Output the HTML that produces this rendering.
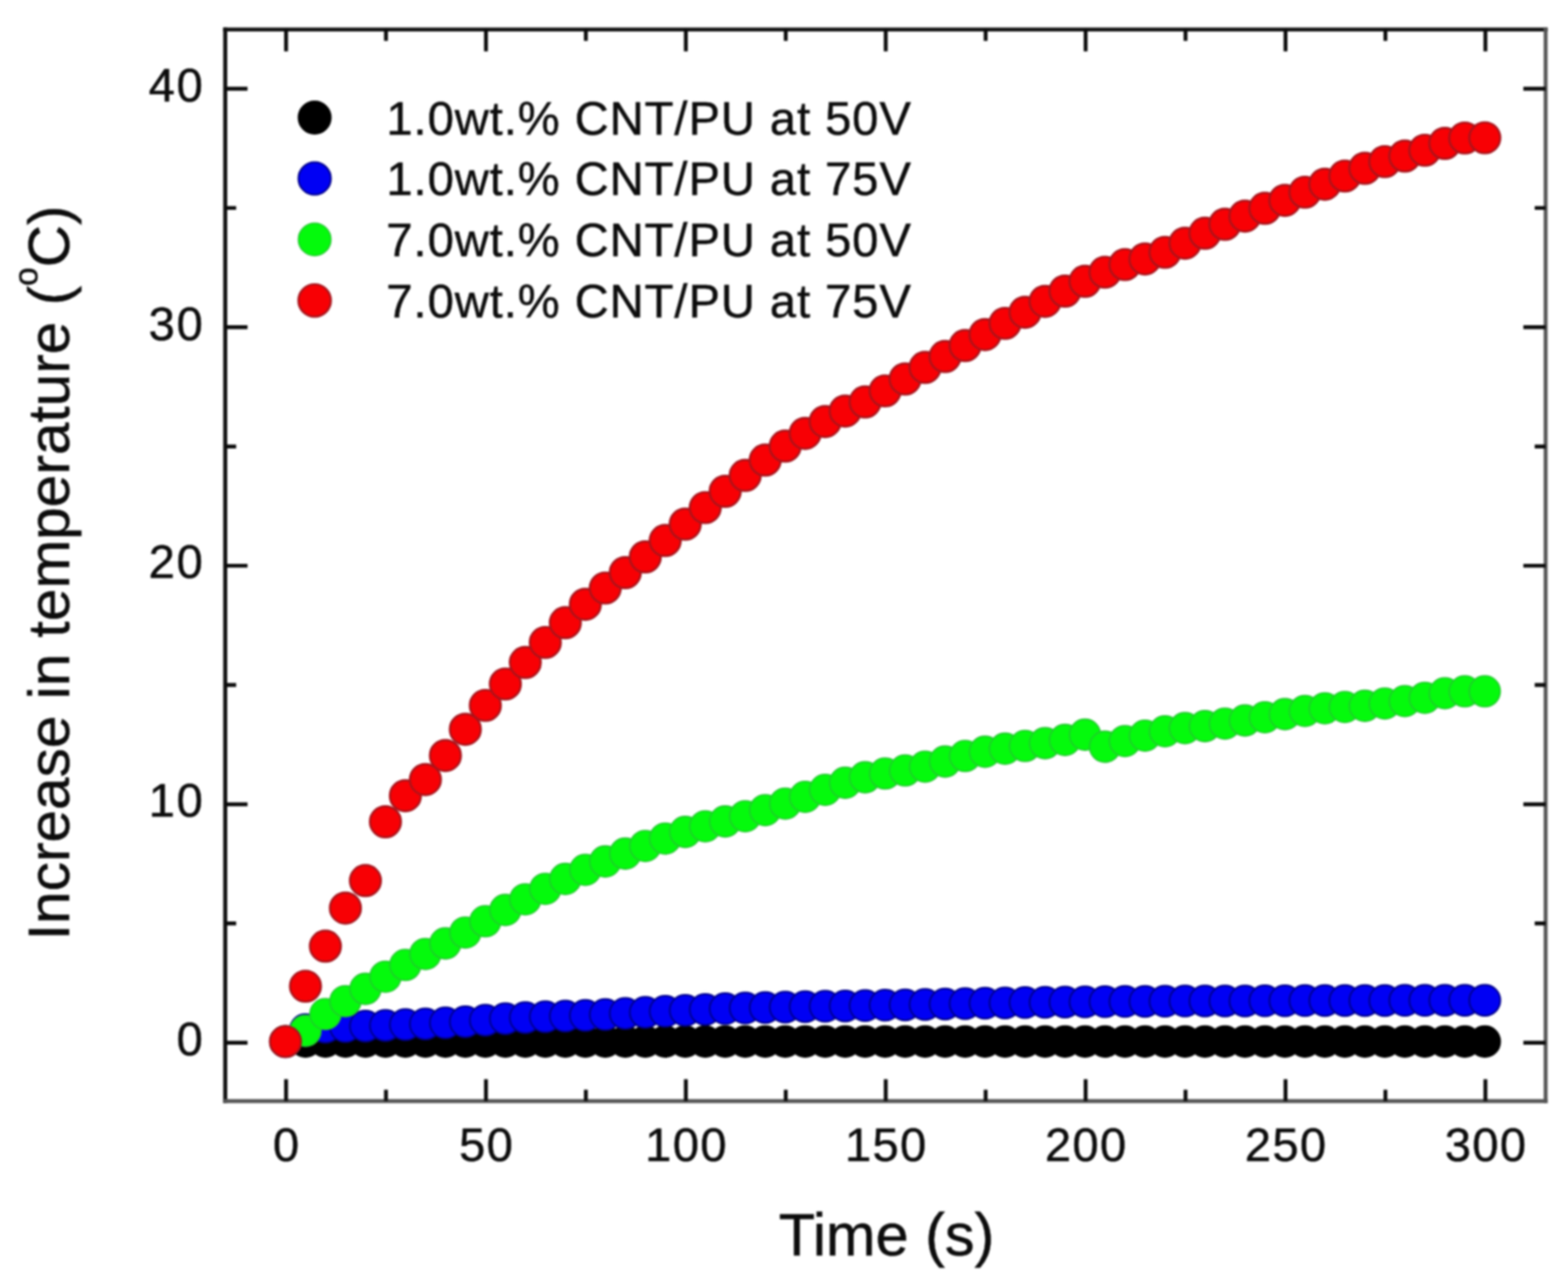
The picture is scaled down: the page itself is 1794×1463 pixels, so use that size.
<!DOCTYPE html>
<html><head><meta charset="utf-8"><title>Increase in temperature vs time</title>
<style>html,body{margin:0;padding:0;background:#fff;width:1794px;height:1463px;overflow:hidden}svg{display:block;filter:blur(1.3px)}</style>
</head><body>
<svg width="1794" height="1463" viewBox="0 0 1794 1463">
<rect x="0" y="0" width="1794" height="1463" fill="#ffffff"/>
<g fill="#000000" stroke="#000000" stroke-width="1.6">
<circle cx="326.6" cy="1191.4" r="17.75"/>
<circle cx="349.5" cy="1191.4" r="17.75"/>
<circle cx="372.3" cy="1191.4" r="17.75"/>
<circle cx="395.2" cy="1191.4" r="17.75"/>
<circle cx="418.1" cy="1191.4" r="17.75"/>
<circle cx="441.0" cy="1191.4" r="17.75"/>
<circle cx="463.8" cy="1191.4" r="17.75"/>
<circle cx="486.7" cy="1191.4" r="17.75"/>
<circle cx="509.6" cy="1191.4" r="17.75"/>
<circle cx="532.4" cy="1191.4" r="17.75"/>
<circle cx="555.3" cy="1191.4" r="17.75"/>
<circle cx="578.2" cy="1191.4" r="17.75"/>
<circle cx="601.0" cy="1191.4" r="17.75"/>
<circle cx="623.9" cy="1191.4" r="17.75"/>
<circle cx="646.8" cy="1191.4" r="17.75"/>
<circle cx="669.7" cy="1191.4" r="17.75"/>
<circle cx="692.5" cy="1191.4" r="17.75"/>
<circle cx="715.4" cy="1191.4" r="17.75"/>
<circle cx="738.3" cy="1191.4" r="17.75"/>
<circle cx="761.1" cy="1191.4" r="17.75"/>
<circle cx="784.0" cy="1191.4" r="17.75"/>
<circle cx="806.9" cy="1191.4" r="17.75"/>
<circle cx="829.7" cy="1191.4" r="17.75"/>
<circle cx="852.6" cy="1191.4" r="17.75"/>
<circle cx="875.5" cy="1191.4" r="17.75"/>
<circle cx="898.4" cy="1191.4" r="17.75"/>
<circle cx="921.2" cy="1191.4" r="17.75"/>
<circle cx="944.1" cy="1191.4" r="17.75"/>
<circle cx="967.0" cy="1191.4" r="17.75"/>
<circle cx="989.8" cy="1191.4" r="17.75"/>
<circle cx="1012.7" cy="1191.4" r="17.75"/>
<circle cx="1035.6" cy="1191.4" r="17.75"/>
<circle cx="1058.4" cy="1191.4" r="17.75"/>
<circle cx="1081.3" cy="1191.4" r="17.75"/>
<circle cx="1104.2" cy="1191.4" r="17.75"/>
<circle cx="1127.0" cy="1191.4" r="17.75"/>
<circle cx="1149.9" cy="1191.4" r="17.75"/>
<circle cx="1172.8" cy="1191.4" r="17.75"/>
<circle cx="1195.7" cy="1191.4" r="17.75"/>
<circle cx="1218.5" cy="1191.4" r="17.75"/>
<circle cx="1241.4" cy="1191.4" r="17.75"/>
<circle cx="1264.3" cy="1191.4" r="17.75"/>
<circle cx="1287.1" cy="1191.4" r="17.75"/>
<circle cx="1310.0" cy="1191.4" r="17.75"/>
<circle cx="1332.9" cy="1191.4" r="17.75"/>
<circle cx="1355.8" cy="1191.4" r="17.75"/>
<circle cx="1378.6" cy="1191.4" r="17.75"/>
<circle cx="1401.5" cy="1191.4" r="17.75"/>
<circle cx="1424.4" cy="1191.4" r="17.75"/>
<circle cx="1447.2" cy="1191.4" r="17.75"/>
<circle cx="1470.1" cy="1191.4" r="17.75"/>
<circle cx="1493.0" cy="1191.4" r="17.75"/>
<circle cx="1515.8" cy="1191.4" r="17.75"/>
<circle cx="1538.7" cy="1191.4" r="17.75"/>
<circle cx="1561.6" cy="1191.4" r="17.75"/>
<circle cx="1584.4" cy="1191.4" r="17.75"/>
<circle cx="1607.3" cy="1191.4" r="17.75"/>
<circle cx="1630.2" cy="1191.4" r="17.75"/>
<circle cx="1653.1" cy="1191.4" r="17.75"/>
<circle cx="1675.9" cy="1191.4" r="17.75"/>
<circle cx="1698.8" cy="1191.4" r="17.75"/>
</g>
<g fill="#0000f4" stroke="#00008c" stroke-width="2.0">
<circle cx="326.6" cy="1191.4" r="17.75"/>
<circle cx="349.5" cy="1177.8" r="17.75"/>
<circle cx="372.3" cy="1175.0" r="17.75"/>
<circle cx="395.2" cy="1174.3" r="17.75"/>
<circle cx="418.1" cy="1173.7" r="17.75"/>
<circle cx="441.0" cy="1172.9" r="17.75"/>
<circle cx="463.8" cy="1172.1" r="17.75"/>
<circle cx="486.7" cy="1171.2" r="17.75"/>
<circle cx="509.6" cy="1170.1" r="17.75"/>
<circle cx="532.4" cy="1168.7" r="17.75"/>
<circle cx="555.3" cy="1166.9" r="17.75"/>
<circle cx="578.2" cy="1165.2" r="17.75"/>
<circle cx="601.0" cy="1163.9" r="17.75"/>
<circle cx="623.9" cy="1163.1" r="17.75"/>
<circle cx="646.8" cy="1162.3" r="17.75"/>
<circle cx="669.7" cy="1161.6" r="17.75"/>
<circle cx="692.5" cy="1160.6" r="17.75"/>
<circle cx="715.4" cy="1159.2" r="17.75"/>
<circle cx="738.3" cy="1158.0" r="17.75"/>
<circle cx="761.1" cy="1156.8" r="17.75"/>
<circle cx="784.0" cy="1155.7" r="17.75"/>
<circle cx="806.9" cy="1154.7" r="17.75"/>
<circle cx="829.7" cy="1153.8" r="17.75"/>
<circle cx="852.6" cy="1153.1" r="17.75"/>
<circle cx="875.5" cy="1152.5" r="17.75"/>
<circle cx="898.4" cy="1152.0" r="17.75"/>
<circle cx="921.2" cy="1151.5" r="17.75"/>
<circle cx="944.1" cy="1151.1" r="17.75"/>
<circle cx="967.0" cy="1150.7" r="17.75"/>
<circle cx="989.8" cy="1150.3" r="17.75"/>
<circle cx="1012.7" cy="1149.8" r="17.75"/>
<circle cx="1035.6" cy="1149.4" r="17.75"/>
<circle cx="1058.4" cy="1149.0" r="17.75"/>
<circle cx="1081.3" cy="1148.5" r="17.75"/>
<circle cx="1104.2" cy="1148.0" r="17.75"/>
<circle cx="1127.0" cy="1147.6" r="17.75"/>
<circle cx="1149.9" cy="1147.2" r="17.75"/>
<circle cx="1172.8" cy="1146.8" r="17.75"/>
<circle cx="1195.7" cy="1146.5" r="17.75"/>
<circle cx="1218.5" cy="1146.2" r="17.75"/>
<circle cx="1241.4" cy="1146.0" r="17.75"/>
<circle cx="1264.3" cy="1145.8" r="17.75"/>
<circle cx="1287.1" cy="1145.6" r="17.75"/>
<circle cx="1310.0" cy="1145.4" r="17.75"/>
<circle cx="1332.9" cy="1145.3" r="17.75"/>
<circle cx="1355.8" cy="1145.1" r="17.75"/>
<circle cx="1378.6" cy="1145.0" r="17.75"/>
<circle cx="1401.5" cy="1145.0" r="17.75"/>
<circle cx="1424.4" cy="1144.9" r="17.75"/>
<circle cx="1447.2" cy="1144.8" r="17.75"/>
<circle cx="1470.1" cy="1144.7" r="17.75"/>
<circle cx="1493.0" cy="1144.6" r="17.75"/>
<circle cx="1515.8" cy="1144.5" r="17.75"/>
<circle cx="1538.7" cy="1144.5" r="17.75"/>
<circle cx="1561.6" cy="1144.4" r="17.75"/>
<circle cx="1584.4" cy="1144.4" r="17.75"/>
<circle cx="1607.3" cy="1144.3" r="17.75"/>
<circle cx="1630.2" cy="1144.3" r="17.75"/>
<circle cx="1653.1" cy="1144.2" r="17.75"/>
<circle cx="1675.9" cy="1144.2" r="17.75"/>
<circle cx="1698.8" cy="1144.2" r="17.75"/>
</g>
<g fill="#04fa0c" stroke="#24c830" stroke-width="1.6">
<circle cx="326.6" cy="1191.4" r="17.75"/>
<circle cx="349.5" cy="1179.1" r="17.75"/>
<circle cx="372.3" cy="1160.0" r="17.75"/>
<circle cx="395.2" cy="1145.2" r="17.75"/>
<circle cx="418.1" cy="1131.1" r="17.75"/>
<circle cx="441.0" cy="1117.2" r="17.75"/>
<circle cx="463.8" cy="1103.8" r="17.75"/>
<circle cx="486.7" cy="1091.2" r="17.75"/>
<circle cx="509.6" cy="1079.1" r="17.75"/>
<circle cx="532.4" cy="1066.7" r="17.75"/>
<circle cx="555.3" cy="1053.8" r="17.75"/>
<circle cx="578.2" cy="1040.9" r="17.75"/>
<circle cx="601.0" cy="1028.7" r="17.75"/>
<circle cx="623.9" cy="1016.7" r="17.75"/>
<circle cx="646.8" cy="1005.4" r="17.75"/>
<circle cx="669.7" cy="995.0" r="17.75"/>
<circle cx="692.5" cy="985.4" r="17.75"/>
<circle cx="715.4" cy="976.4" r="17.75"/>
<circle cx="738.3" cy="967.7" r="17.75"/>
<circle cx="761.1" cy="959.2" r="17.75"/>
<circle cx="784.0" cy="951.6" r="17.75"/>
<circle cx="806.9" cy="945.2" r="17.75"/>
<circle cx="829.7" cy="939.6" r="17.75"/>
<circle cx="852.6" cy="933.7" r="17.75"/>
<circle cx="875.5" cy="926.7" r="17.75"/>
<circle cx="898.4" cy="919.2" r="17.75"/>
<circle cx="921.2" cy="911.5" r="17.75"/>
<circle cx="944.1" cy="903.5" r="17.75"/>
<circle cx="967.0" cy="895.4" r="17.75"/>
<circle cx="989.8" cy="889.1" r="17.75"/>
<circle cx="1012.7" cy="884.8" r="17.75"/>
<circle cx="1035.6" cy="881.3" r="17.75"/>
<circle cx="1058.4" cy="877.0" r="17.75"/>
<circle cx="1081.3" cy="871.1" r="17.75"/>
<circle cx="1104.2" cy="864.8" r="17.75"/>
<circle cx="1127.0" cy="859.9" r="17.75"/>
<circle cx="1149.9" cy="856.4" r="17.75"/>
<circle cx="1172.8" cy="853.3" r="17.75"/>
<circle cx="1195.7" cy="850.1" r="17.75"/>
<circle cx="1218.5" cy="846.4" r="17.75"/>
<circle cx="1241.4" cy="840.4" r="17.75"/>
<circle cx="1264.3" cy="854.1" r="17.75"/>
<circle cx="1287.1" cy="847.7" r="17.75"/>
<circle cx="1310.0" cy="841.5" r="17.75"/>
<circle cx="1332.9" cy="836.5" r="17.75"/>
<circle cx="1355.8" cy="832.9" r="17.75"/>
<circle cx="1378.6" cy="830.6" r="17.75"/>
<circle cx="1401.5" cy="827.7" r="17.75"/>
<circle cx="1424.4" cy="824.1" r="17.75"/>
<circle cx="1447.2" cy="820.5" r="17.75"/>
<circle cx="1470.1" cy="816.9" r="17.75"/>
<circle cx="1493.0" cy="813.2" r="17.75"/>
<circle cx="1515.8" cy="810.2" r="17.75"/>
<circle cx="1538.7" cy="808.7" r="17.75"/>
<circle cx="1561.6" cy="807.4" r="17.75"/>
<circle cx="1584.4" cy="804.7" r="17.75"/>
<circle cx="1607.3" cy="802.0" r="17.75"/>
<circle cx="1630.2" cy="798.2" r="17.75"/>
<circle cx="1653.1" cy="793.0" r="17.75"/>
<circle cx="1675.9" cy="790.8" r="17.75"/>
<circle cx="1698.8" cy="790.8" r="17.75"/>
</g>
<g fill="#f80004" stroke="#a8141c" stroke-width="2.4">
<circle cx="326.6" cy="1191.4" r="17.75"/>
<circle cx="349.5" cy="1128.1" r="17.75"/>
<circle cx="372.3" cy="1082.3" r="17.75"/>
<circle cx="395.2" cy="1038.7" r="17.75"/>
<circle cx="418.1" cy="1007.3" r="17.75"/>
<circle cx="441.0" cy="940.0" r="17.75"/>
<circle cx="463.8" cy="910.2" r="17.75"/>
<circle cx="486.7" cy="891.7" r="17.75"/>
<circle cx="509.6" cy="864.2" r="17.75"/>
<circle cx="532.4" cy="834.2" r="17.75"/>
<circle cx="555.3" cy="806.9" r="17.75"/>
<circle cx="578.2" cy="782.4" r="17.75"/>
<circle cx="601.0" cy="757.8" r="17.75"/>
<circle cx="623.9" cy="734.9" r="17.75"/>
<circle cx="646.8" cy="712.3" r="17.75"/>
<circle cx="669.7" cy="691.2" r="17.75"/>
<circle cx="692.5" cy="672.6" r="17.75"/>
<circle cx="715.4" cy="655.0" r="17.75"/>
<circle cx="738.3" cy="637.0" r="17.75"/>
<circle cx="761.1" cy="618.3" r="17.75"/>
<circle cx="784.0" cy="599.5" r="17.75"/>
<circle cx="806.9" cy="580.6" r="17.75"/>
<circle cx="829.7" cy="562.0" r="17.75"/>
<circle cx="852.6" cy="543.8" r="17.75"/>
<circle cx="875.5" cy="526.3" r="17.75"/>
<circle cx="898.4" cy="510.3" r="17.75"/>
<circle cx="921.2" cy="495.7" r="17.75"/>
<circle cx="944.1" cy="482.2" r="17.75"/>
<circle cx="967.0" cy="470.2" r="17.75"/>
<circle cx="989.8" cy="459.8" r="17.75"/>
<circle cx="1012.7" cy="447.1" r="17.75"/>
<circle cx="1035.6" cy="433.5" r="17.75"/>
<circle cx="1058.4" cy="420.3" r="17.75"/>
<circle cx="1081.3" cy="407.8" r="17.75"/>
<circle cx="1104.2" cy="395.3" r="17.75"/>
<circle cx="1127.0" cy="382.7" r="17.75"/>
<circle cx="1149.9" cy="369.9" r="17.75"/>
<circle cx="1172.8" cy="357.2" r="17.75"/>
<circle cx="1195.7" cy="344.7" r="17.75"/>
<circle cx="1218.5" cy="333.0" r="17.75"/>
<circle cx="1241.4" cy="321.8" r="17.75"/>
<circle cx="1264.3" cy="311.4" r="17.75"/>
<circle cx="1287.1" cy="302.6" r="17.75"/>
<circle cx="1310.0" cy="296.2" r="17.75"/>
<circle cx="1332.9" cy="288.6" r="17.75"/>
<circle cx="1355.8" cy="278.2" r="17.75"/>
<circle cx="1378.6" cy="266.8" r="17.75"/>
<circle cx="1401.5" cy="256.5" r="17.75"/>
<circle cx="1424.4" cy="247.2" r="17.75"/>
<circle cx="1447.2" cy="238.3" r="17.75"/>
<circle cx="1470.1" cy="229.2" r="17.75"/>
<circle cx="1493.0" cy="219.9" r="17.75"/>
<circle cx="1515.8" cy="210.7" r="17.75"/>
<circle cx="1538.7" cy="201.4" r="17.75"/>
<circle cx="1561.6" cy="192.5" r="17.75"/>
<circle cx="1584.4" cy="184.9" r="17.75"/>
<circle cx="1607.3" cy="178.5" r="17.75"/>
<circle cx="1630.2" cy="171.9" r="17.75"/>
<circle cx="1653.1" cy="164.0" r="17.75"/>
<circle cx="1675.9" cy="157.9" r="17.75"/>
<circle cx="1698.8" cy="157.6" r="17.75"/>
</g>
<g stroke-linecap="square" fill="none">
<line x1="257.7" y1="33.7" x2="1768.4" y2="33.7" stroke="#141414" stroke-width="4.6"/>
<line x1="257.7" y1="33.7" x2="257.7" y2="1259.5" stroke="#101010" stroke-width="4.6"/>
<line x1="1768.4" y1="33.7" x2="1768.4" y2="1259.5" stroke="#555" stroke-width="4.4"/>
<line x1="257.7" y1="1259.5" x2="1768.4" y2="1259.5" stroke="#555" stroke-width="4.4"/>
</g>
<path d="M327.3 1259.5V1234.5M327.3 33.7V58.7M441.6 1259.5V1246.5M441.6 33.7V46.7M556.0 1259.5V1234.5M556.0 33.7V58.7M670.3 1259.5V1246.5M670.3 33.7V46.7M784.7 1259.5V1234.5M784.7 33.7V58.7M899.0 1259.5V1246.5M899.0 33.7V46.7M1013.4 1259.5V1234.5M1013.4 33.7V58.7M1127.7 1259.5V1246.5M1127.7 33.7V46.7M1242.1 1259.5V1234.5M1242.1 33.7V58.7M1356.4 1259.5V1246.5M1356.4 33.7V46.7M1470.8 1259.5V1234.5M1470.8 33.7V58.7M1585.1 1259.5V1246.5M1585.1 33.7V46.7M1699.5 1259.5V1234.5M1699.5 33.7V58.7M257.7 1192.8H283.2M1768.4 1192.8H1742.9M257.7 1056.3H270.2M1768.4 1056.3H1755.9M257.7 920.0H283.2M1768.4 920.0H1742.9M257.7 783.5H270.2M1768.4 783.5H1755.9M257.7 647.1H283.2M1768.4 647.1H1742.9M257.7 510.8H270.2M1768.4 510.8H1755.9M257.7 374.3H283.2M1768.4 374.3H1742.9M257.7 237.9H270.2M1768.4 237.9H1755.9M257.7 101.5H283.2M1768.4 101.5H1742.9" stroke="#0a0a0a" stroke-width="4.4" fill="none"/>
<g font-family="'Liberation Sans', Arial, sans-serif" font-size="54" fill="#0c0c0c" stroke="#0c0c0c" stroke-width="0.5" text-anchor="middle" letter-spacing="1.5">
<text x="328.1" y="1328">0</text>
<text x="556.7" y="1328">50</text>
<text x="785.4" y="1328">100</text>
<text x="1014.1" y="1328">150</text>
<text x="1242.8" y="1328">200</text>
<text x="1471.5" y="1328">250</text>
<text x="1700.2" y="1328">300</text>
</g>
<g font-family="'Liberation Sans', Arial, sans-serif" font-size="54" fill="#0c0c0c" stroke="#0c0c0c" stroke-width="0.5" text-anchor="end" letter-spacing="2">
<text x="234" y="1207.0">0</text>
<text x="234" y="934.2">10</text>
<text x="234" y="661.4">20</text>
<text x="234" y="388.5">30</text>
<text x="234" y="115.7">40</text>
</g>
<text x="891" y="1435.5" font-family="'Liberation Sans', Arial, sans-serif" font-size="68" fill="#0c0c0c" stroke="#0c0c0c" stroke-width="0.5">Time (s)</text>
<text transform="translate(78.7 1075.5) rotate(-90)" x="0" y="0" font-family="'Liberation Sans', Arial, sans-serif" font-size="67" fill="#0c0c0c" stroke="#0c0c0c" stroke-width="0.5">Increase in temperature (<tspan font-size="38" dy="-36">o</tspan><tspan dy="36">C)</tspan></text>
<circle cx="360" cy="134.5" r="18.6" fill="#000000" stroke="#000000" stroke-width="1.6"/>
<text x="442" y="153.5" font-family="'Liberation Sans', Arial, sans-serif" font-size="54" letter-spacing="1.05" fill="#0c0c0c" stroke="#0c0c0c" stroke-width="0.5">1.0wt.% CNT/PU at 50V</text>
<circle cx="360" cy="204.2" r="18.6" fill="#0000f4" stroke="#00008c" stroke-width="2.0"/>
<text x="442" y="223.2" font-family="'Liberation Sans', Arial, sans-serif" font-size="54" letter-spacing="1.05" fill="#0c0c0c" stroke="#0c0c0c" stroke-width="0.5">1.0wt.% CNT/PU at 75V</text>
<circle cx="360" cy="273.9" r="18.6" fill="#04fa0c" stroke="#24c830" stroke-width="1.6"/>
<text x="442" y="292.9" font-family="'Liberation Sans', Arial, sans-serif" font-size="54" letter-spacing="1.05" fill="#0c0c0c" stroke="#0c0c0c" stroke-width="0.5">7.0wt.% CNT/PU at 50V</text>
<circle cx="360" cy="343.7" r="18.6" fill="#f80004" stroke="#a8141c" stroke-width="2.4"/>
<text x="442" y="362.7" font-family="'Liberation Sans', Arial, sans-serif" font-size="54" letter-spacing="1.05" fill="#0c0c0c" stroke="#0c0c0c" stroke-width="0.5">7.0wt.% CNT/PU at 75V</text>
</svg>
</body></html>
